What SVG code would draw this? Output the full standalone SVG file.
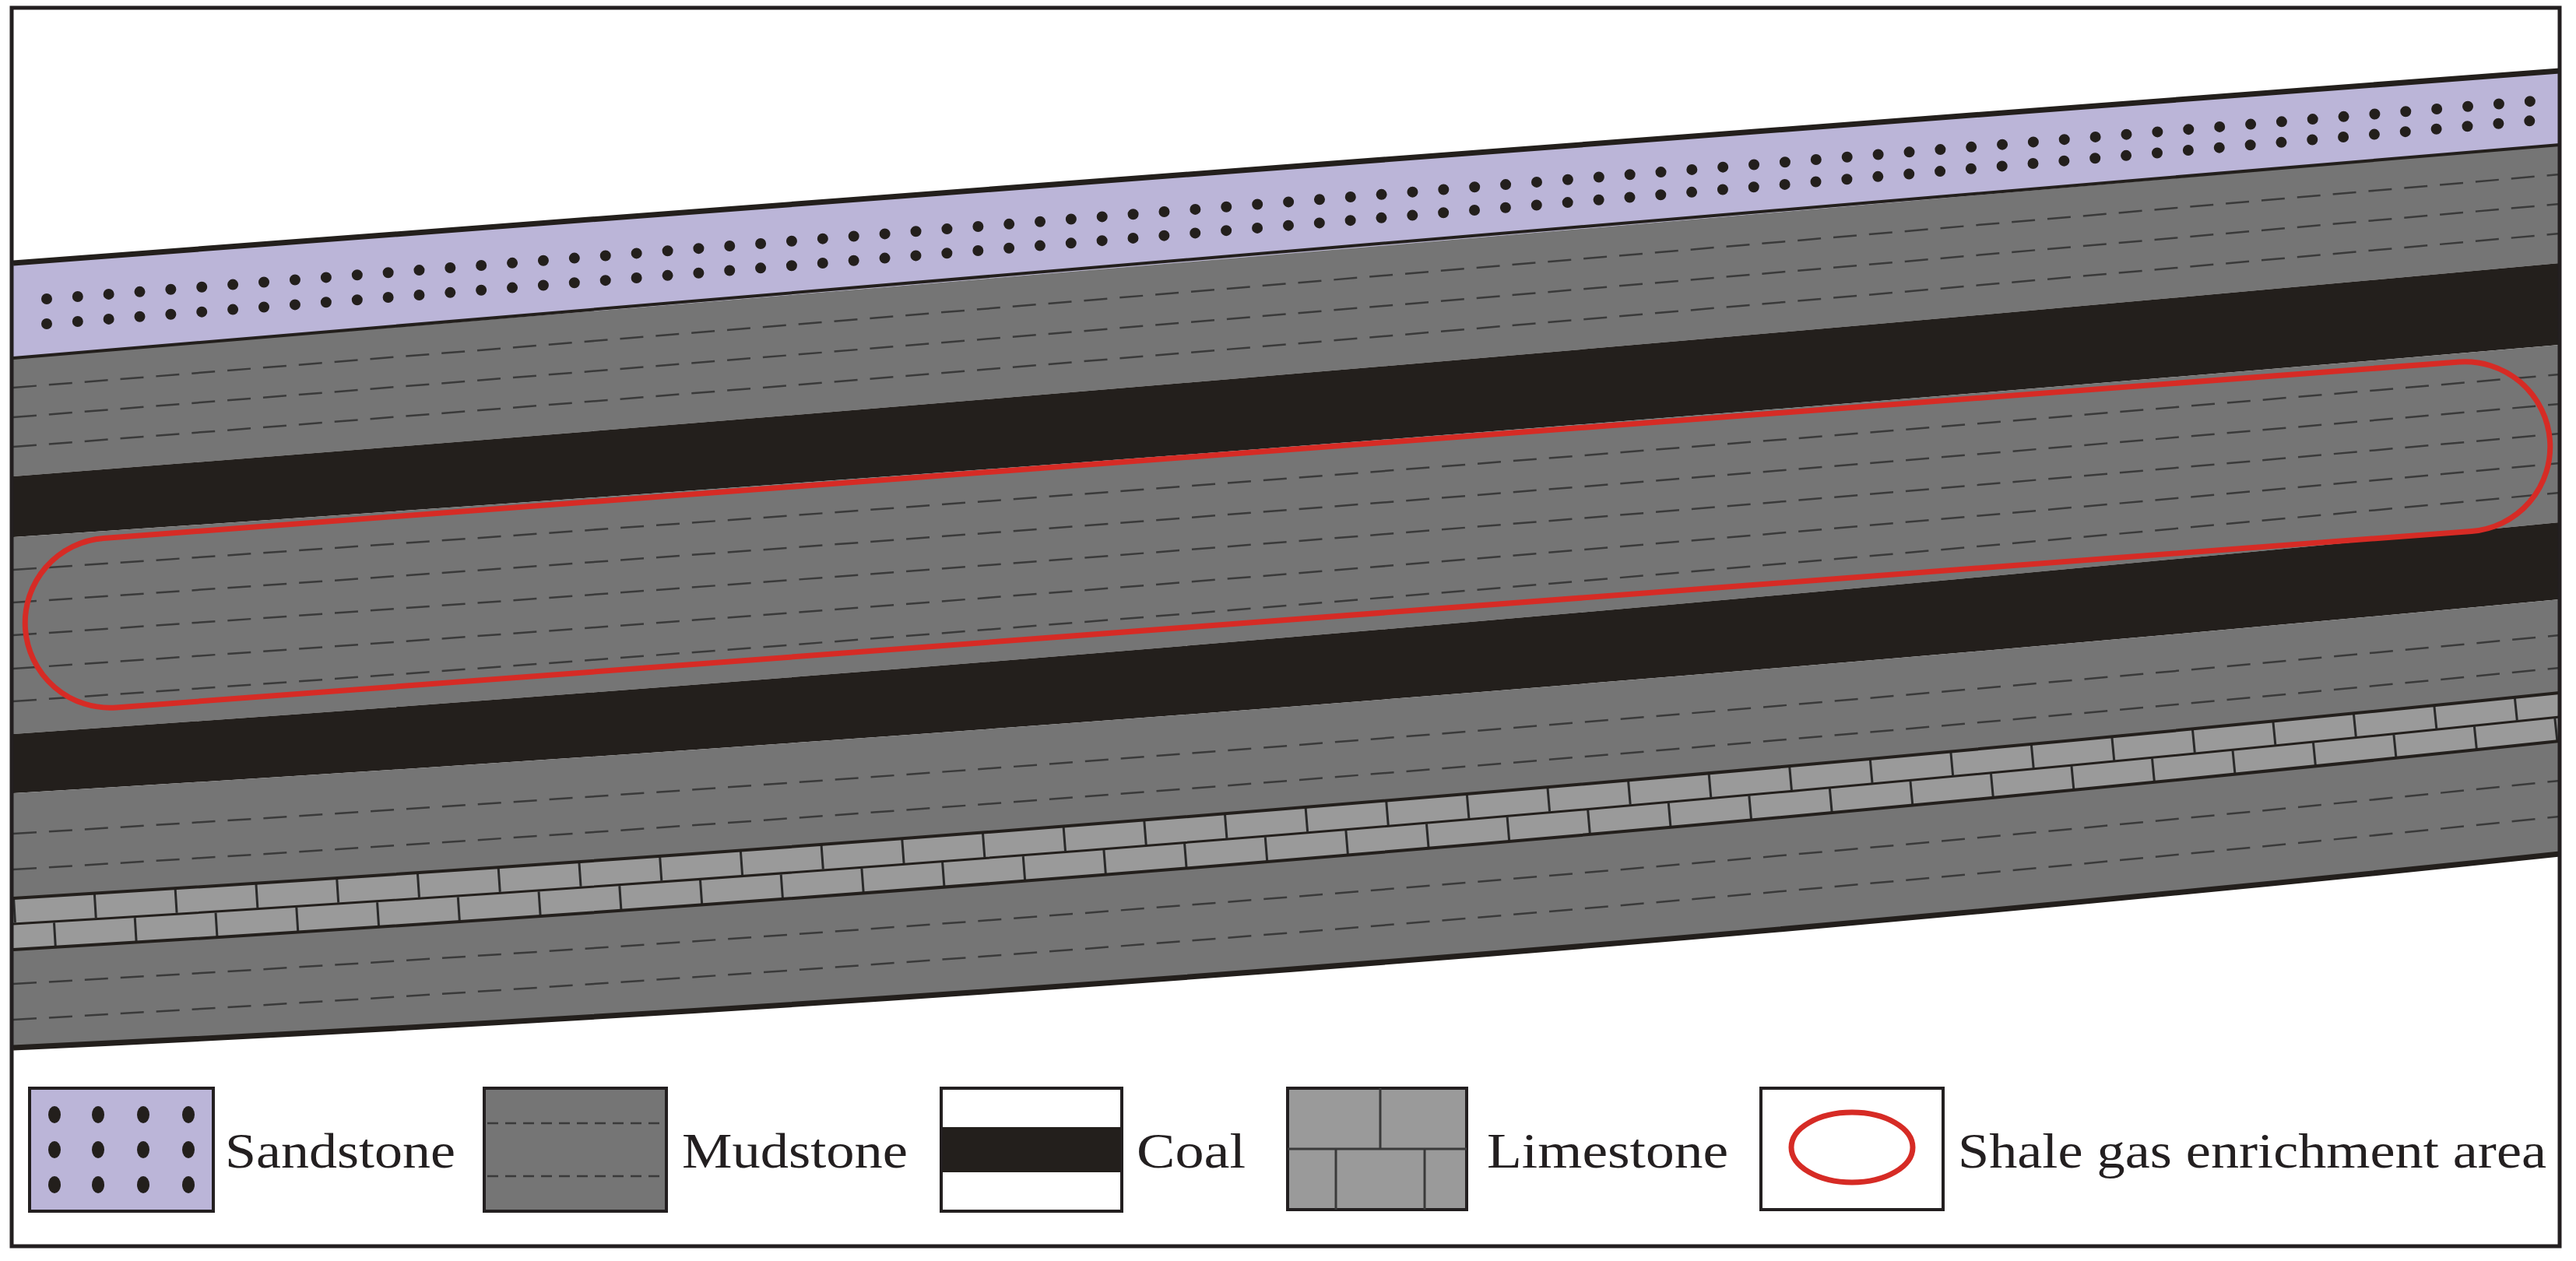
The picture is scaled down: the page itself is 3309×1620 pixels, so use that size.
<svg xmlns="http://www.w3.org/2000/svg" width="3309" height="1620" viewBox="0 0 3309 1620">
<style>
.sand{fill:#bbb5d8}.mud{fill:#757575}.coal{fill:#231f1c}.lime{fill:#9a9a9a}
.dash{fill:none;stroke:#3a3a3a;stroke-width:2.5;stroke-dasharray:30 16}
.dots{fill:none;stroke:#231f1c;stroke-width:14;stroke-linecap:round;stroke-dasharray:0 40}
.edge{fill:none;stroke:#231f1c;stroke-width:4}
.joint{fill:none;stroke:#2a2a2a;stroke-dasharray:3 101}
.lbl{font-family:"Liberation Serif",serif;font-size:64px;fill:#231f20}
.box{stroke:#231f20;stroke-width:4}
</style>
<rect width="3309" height="1620" fill="#fff"/>
<g id="section">
<path class="sand" d="M17,338 Q1652,214 3288,91 L3288,186 Q1652,329 17,460 Z"/>
<path class="mud" d="M17,460 Q1652,329 3288,186 L3288,338 Q1652,487 17,612 Z"/>
<path class="coal" d="M17,612 Q1652,487 3288,338 L3288,443 Q1652,582 17,690 Z"/>
<path class="mud" d="M17,690 Q1652,582 3288,443 L3288,671 Q1652,831 17,943 Z"/>
<path class="coal" d="M17,943 Q1652,831 3288,671 L3288,770 Q1652,922 17,1019 Z"/>
<path class="mud" d="M17,1019 Q1652,922 3288,770 L3288,890 Q1652,1056 17,1154 Z"/>
<path class="lime" d="M17,1154 Q1652,1056 3288,890 L3288,952 Q1652,1124 17,1220 Z"/>
<path class="mud" d="M17,1220 Q1652,1124 3288,952 L3288,1097 Q1652,1270 17,1346 Z"/>
<!-- dots -->
<path class="dots" d="M60,384 Q1652,262 3288,127"/>
<path class="dots" d="M60,416 Q1652,294 3288,152"/>
<!-- mud dashes -->
<path class="dash" d="M17,498 Q1652,368 3288,224"/>
<path class="dash" d="M17,536 Q1652,408 3288,262"/>
<path class="dash" d="M17,574 Q1652,448 3288,300"/>
<path class="dash" d="M17,732 Q1652,623 3288,481"/>
<path class="dash" d="M17,774 Q1652,664 3288,519"/>
<path class="dash" d="M17,816 Q1652,706 3288,557"/>
<path class="dash" d="M17,859 Q1652,748 3288,595"/>
<path class="dash" d="M17,901 Q1652,789 3288,633"/>
<path class="dash" d="M17,1071 Q1652,973 3288,816"/>
<path class="dash" d="M17,1117 Q1652,1019 3288,858"/>
<path class="dash" d="M17,1264 Q1652,1172 3288,1003"/>
<path class="dash" d="M17,1310 Q1652,1218 3288,1049"/>
<!-- limestone -->
<path class="edge" style="stroke-width:3" d="M17,1187 Q1652,1090 3288,921"/>
<path class="joint" style="stroke-width:31" d="M17,1170 Q1652,1073 3288,905"/>
<path class="joint" style="stroke-width:31;stroke-dashoffset:52" d="M17,1204 Q1652,1107 3288,937"/>
<path class="edge" d="M17,1154 Q1652,1056 3288,890"/>
<path class="edge" d="M17,1220 Q1652,1124 3288,952"/>
<path class="edge" d="M17,460 Q1652,329 3288,186"/>
<path class="edge" style="stroke-width:7" d="M17,338 Q1652,214 3288,91"/>
<path class="edge" style="stroke-width:7" d="M17,1346 Q1652,1270 3288,1097"/>
</g>
<g id="enrichment">
<rect x="28" y="578" width="3252" height="218" rx="109" fill="none" stroke="#d62b25" stroke-width="7" transform="rotate(-4.28 1654 687)"/>
</g>
<g id="legend">
<g id="leg-sand">
<rect class="box sand" x="38" y="1398" width="236" height="158"/>
<g fill="#231f1c">
<ellipse cx="70" cy="1432" rx="8" ry="11"/><ellipse cx="126" cy="1432" rx="8" ry="11"/><ellipse cx="184" cy="1432" rx="8" ry="11"/><ellipse cx="242" cy="1432" rx="8" ry="11"/>
<ellipse cx="70" cy="1477" rx="8" ry="11"/><ellipse cx="126" cy="1477" rx="8" ry="11"/><ellipse cx="184" cy="1477" rx="8" ry="11"/><ellipse cx="242" cy="1477" rx="8" ry="11"/>
<ellipse cx="70" cy="1522" rx="8" ry="11"/><ellipse cx="126" cy="1522" rx="8" ry="11"/><ellipse cx="184" cy="1522" rx="8" ry="11"/><ellipse cx="242" cy="1522" rx="8" ry="11"/>
</g>
<text class="lbl" x="289" y="1500" textLength="296" lengthAdjust="spacingAndGlyphs">Sandstone</text>
</g>
<g id="leg-mud">
<rect class="box mud" x="622" y="1398" width="234" height="158"/>
<line class="dash" x1="626" y1="1443" x2="852" y2="1443" style="stroke-dasharray:14 9"/>
<line class="dash" x1="626" y1="1511" x2="852" y2="1511" style="stroke-dasharray:14 9"/>
<text class="lbl" x="876" y="1500" textLength="290" lengthAdjust="spacingAndGlyphs">Mudstone</text>
</g>
<g id="leg-coal">
<rect class="box" fill="#fff" x="1209" y="1398" width="232" height="158"/>
<rect class="coal" x="1211" y="1448" width="228" height="58"/>
<text class="lbl" x="1460" y="1500" textLength="140" lengthAdjust="spacingAndGlyphs">Coal</text>
</g>
<g id="leg-lime">
<rect class="box lime" x="1654" y="1398" width="230" height="156"/>
<path d="M1654,1476 H1884 M1773,1398 V1476 M1716,1476 V1554 M1830,1476 V1554" stroke="#3a3a3a" stroke-width="3" fill="none"/>
<text class="lbl" x="1910" y="1500" textLength="310" lengthAdjust="spacingAndGlyphs">Limestone</text>
</g>
<g id="leg-shale">
<rect class="box" fill="#fff" x="2262" y="1398" width="234" height="156"/>
<ellipse cx="2379" cy="1474" rx="78" ry="45" fill="none" stroke="#d62b25" stroke-width="7"/>
<text class="lbl" x="2515" y="1500" textLength="756" lengthAdjust="spacingAndGlyphs">Shale gas enrichment area</text>
</g>
</g>
<rect x="15" y="10" width="3273" height="1591" fill="none" stroke="#231f20" stroke-width="5"/>
</svg>
